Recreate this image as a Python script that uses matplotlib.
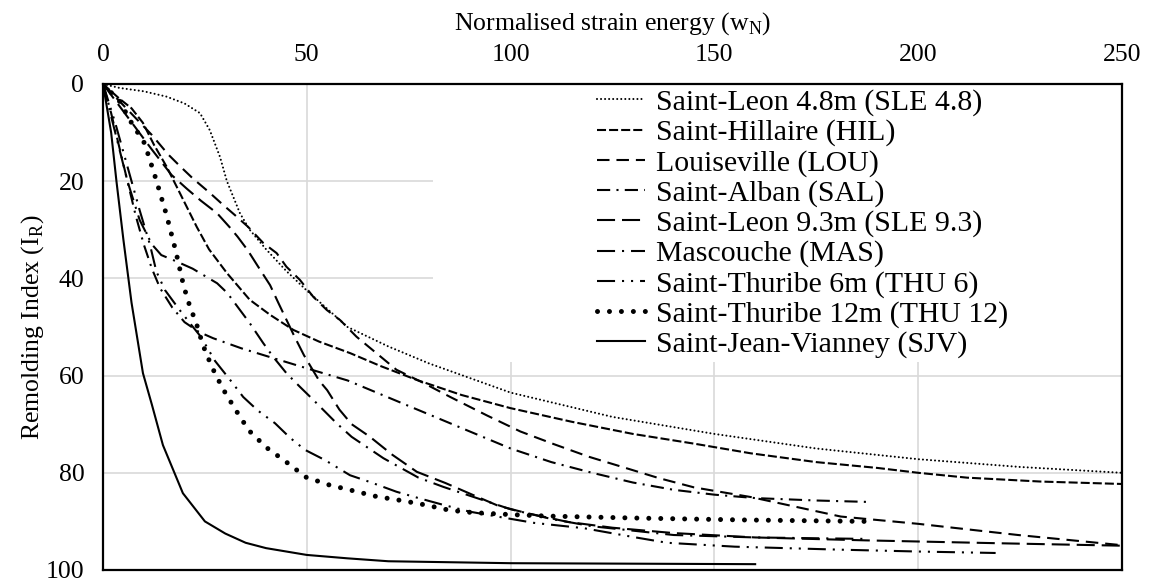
import matplotlib
matplotlib.use("Agg")
import matplotlib.pyplot as plt
from matplotlib.patches import Rectangle

plt.rcParams['font.family'] = ['Liberation Serif', 'DejaVu Serif']
plt.rcParams['mathtext.fontset'] = 'custom'
plt.rcParams['mathtext.rm'] = 'Liberation Serif'
plt.rcParams['lines.scale_dashes'] = False

# ---------------- data ----------------
sle48_x = [0, 4, 10, 15.6, 20, 23.8, 26.2, 28.7, 30.4, 33.6, 36, 40, 45, 50, 60, 70, 80, 90, 100, 125, 150, 175, 200, 225, 250]
sle48_y = [0, 0.8, 1.5, 2.6, 4, 6, 9.5, 15, 20, 26.6, 30, 34, 38.5, 42.5, 50, 54, 57.5, 60.5, 63.5, 68.5, 72, 75, 77.2, 78.8, 80]

hil_x = [0, 4, 7, 9.8, 12.5, 15.6, 18, 20.5, 23, 26, 30.4, 36, 41, 46.7, 53, 60.7, 68, 77, 88, 100, 115, 130, 145, 159, 175, 190, 200, 212, 230, 250]
hil_y = [0, 3, 5, 8, 12.5, 17, 21, 25.2, 29.4, 34, 38.9, 44.4, 47.5, 50.6, 53, 55.4, 58, 60.9, 64, 66.7, 69.5, 72, 74, 76, 77.8, 79, 80, 81, 81.8, 82.3]

lou_x = [0, 4, 8, 12, 16, 19, 22, 26.2, 29.5, 32.4, 35.6, 39.3, 42.6, 45, 48.3, 51.6, 54.9, 58.2, 62.2, 67.1, 72, 78.6, 85.2, 94.2, 102.4, 110.6, 119.2, 128.2, 136.4, 145, 159, 170, 181, 200, 224.5, 250]
lou_y = [0, 3.5, 7, 10.5, 14.5, 17, 19.4, 22.4, 24.9, 27, 29.4, 32.7, 34.8, 37.6, 40.3, 43.8, 46.5, 48.6, 52, 55.4, 58.8, 61.5, 64.4, 68.2, 71.5, 74.1, 76.7, 79, 81.1, 83, 85, 87, 89, 90.5, 92.8, 94.9]

sal_x = [0, 2, 4, 6, 8, 10, 12, 14, 17, 20, 23.5, 27, 34, 41, 50, 60, 70, 80, 90, 100, 110, 120, 130, 140, 150, 160, 175, 188]
sal_y = [0, 6, 13, 20, 27, 33, 38, 42, 46, 49, 51, 52.3, 54.4, 56.2, 58.5, 61, 64.5, 68, 71.5, 75, 77.8, 80, 82, 83.5, 84.5, 85.2, 85.7, 86]

sle93_x = [0, 4, 8, 12, 16.8, 20.5, 24, 28, 31, 33, 35.5, 38, 41, 43, 45, 47, 49.3, 51, 53, 55, 58, 61, 65.5, 71, 77, 84, 90.6, 97, 104, 114, 125, 140, 160, 187, 220, 250]
sle93_y = [0, 4.5, 9, 13.5, 18.7, 21.5, 24, 26.6, 29.4, 31.4, 34.2, 37.5, 41.4, 45, 48.5, 52, 55.8, 58.2, 61, 63, 67, 70, 72.6, 76.3, 79.8, 82.1, 84.5, 86.8, 88.3, 90.1, 91.3, 92.4, 93.3, 93.9, 94.5, 95]

mas_x = [0, 3, 6, 9, 12, 14.3, 18, 22, 25, 28, 30.5, 33.6, 36, 39.3, 41.8, 45, 48.3, 51.6, 57.3, 61, 68.8, 77.4, 83.5, 91, 100, 110, 120, 140, 160, 187]
mas_y = [0, 10, 20, 28, 33, 35.2, 36.5, 38, 39.5, 41, 43, 46.5, 49.2, 53.3, 56.2, 59.5, 62.3, 65, 69.8, 72.6, 77, 81, 82.9, 85, 87.5, 89.5, 91, 92.8, 93.3, 93.6]

thu6_x = [0, 3, 6, 9, 11.5, 13.1, 15.2, 18.8, 21.7, 24, 27.5, 31.2, 34.4, 38, 42.2, 45.9, 49.6, 54.5, 60.6, 65.5, 72, 77.4, 83.5, 90, 97.4, 105.7, 118, 130, 138.4, 155, 180, 200, 219]
thu6_y = [0, 8, 17, 26, 33, 38.6, 42.4, 46.5, 49.6, 52, 57, 60.9, 64.4, 67.2, 69.8, 72.8, 75.3, 77.4, 80.5, 81.9, 83.9, 85.2, 86.6, 88, 89.1, 90.3, 91.4, 93.2, 94.4, 95.2, 95.8, 96.2, 96.5]

thu12_x = [0, 4.1, 7, 10.2, 13, 15.6, 17.8, 19.8, 21.5, 22.7, 24.5, 26.7, 29.4, 32.5, 35.8, 40.1, 45, 49.8, 55.5, 61.4, 67.2, 73.2, 79, 85, 90.9, 100, 108.9, 130, 157, 187]
thu12_y = [0, 3.6, 8, 12.2, 19.6, 27, 34.2, 41.6, 46.3, 48.7, 53.7, 58.2, 62.7, 67, 71.3, 74.8, 77.8, 80.9, 82.5, 83.7, 84.9, 85.7, 86.6, 87.7, 88.2, 88.6, 88.9, 89.3, 89.7, 90]

sjv_x = [0, 2, 3.3, 5, 7, 9.8, 12, 14.7, 19.6, 25, 30, 35, 40, 50, 60, 70, 100, 160]
sjv_y = [0, 10, 20, 32, 45, 59.5, 66, 74.3, 84.2, 90, 92.5, 94.4, 95.5, 96.9, 97.6, 98.2, 98.6, 98.8]

labels = ['Saint-Leon 4.8m (SLE 4.8)', 'Saint-Hillaire (HIL)', 'Louiseville (LOU)',
          'Saint-Alban (SAL)', 'Saint-Leon 9.3m (SLE 9.3)', 'Mascouche (MAS)',
          'Saint-Thuribe 6m (THU 6)', 'Saint-Thuribe 12m (THU 12)', 'Saint-Jean-Vianney (SJV)']
x_ticks = [0, 50, 100, 150, 200, 250]
y_ticks = [0, 20, 40, 60, 80, 100]

series = [(sle48_x, sle48_y), (hil_x, hil_y), (lou_x, lou_y), (sal_x, sal_y),
          (sle93_x, sle93_y), (mas_x, mas_y), (thu6_x, thu6_y), (thu12_x, thu12_y),
          (sjv_x, sjv_y)]

# ---------------- styles ----------------
styles = [
    dict(lw=1.5, dashes=(0.01, 2.9), dash_capstyle='round'),
    dict(lw=1.5, dashes=(6.5, 2.2)),
    dict(lw=1.5, dashes=(9, 5)),
    dict(lw=1.5, dashes=(9.5, 4.5, 1.5, 4.5)),
    dict(lw=1.5, dashes=(13, 5)),
    dict(lw=1.5, dashes=(13, 5, 1.5, 5)),
    dict(lw=1.5, dashes=(13, 5, 1.5, 5, 1.5, 5)),
    dict(lw=3.6, dashes=(0.01, 8.6), dash_capstyle='round'),
    dict(lw=1.5),
]

fig = plt.figure(figsize=(11.51, 5.84), dpi=100)
ax = fig.add_axes([103 / 1151, 1 - 570 / 584, (1122 - 103) / 1151, (570 - 84) / 584])

for (xs, ys), lab, st in zip(series, labels, styles):
    ax.plot(xs, ys, color='black', label=lab, zorder=3, **st)

ax.set_xlim(0, 250)
ax.set_ylim(100, 0)
ax.set_xticks(x_ticks)
ax.set_yticks(y_ticks)
ax.xaxis.tick_top()
ax.xaxis.set_label_position('top')
ax.tick_params(axis='both', length=0, labelsize=18.5)
ax.tick_params(axis='x', pad=13)
ax.tick_params(axis='y', pad=13.5)
ax.set_axisbelow(True)
ax.grid(True, color='#d9d9d9', lw=1.2)
for sp in ax.spines.values():
    sp.set_linewidth(1.6)
    sp.set_color('black')
    sp.set_zorder(4)

ax.set_xlabel(r'Normalised strain energy (w$_\mathregular{N}$)', fontsize=18.5, labelpad=10)
ax.set_ylabel(r'Remolding Index (I$_\mathregular{R}$)', fontsize=18.5, labelpad=0)

# white legend area (covers gridlines)
ax.add_patch(Rectangle((0.324, 0.428), 0.676, 0.572, transform=ax.transAxes,
                       facecolor='white', edgecolor='none', zorder=1))

leg = ax.legend(loc='upper left', bbox_to_anchor=((597 - 103) / 1019, 1 - (89 - 84) / 486),
                frameon=False, fontsize=21.5, handlelength=1.6, handletextpad=0.37,
                labelspacing=0.1, borderpad=0, borderaxespad=0)
leg.set_zorder(5)

fig.savefig('out.png', dpi=100)
